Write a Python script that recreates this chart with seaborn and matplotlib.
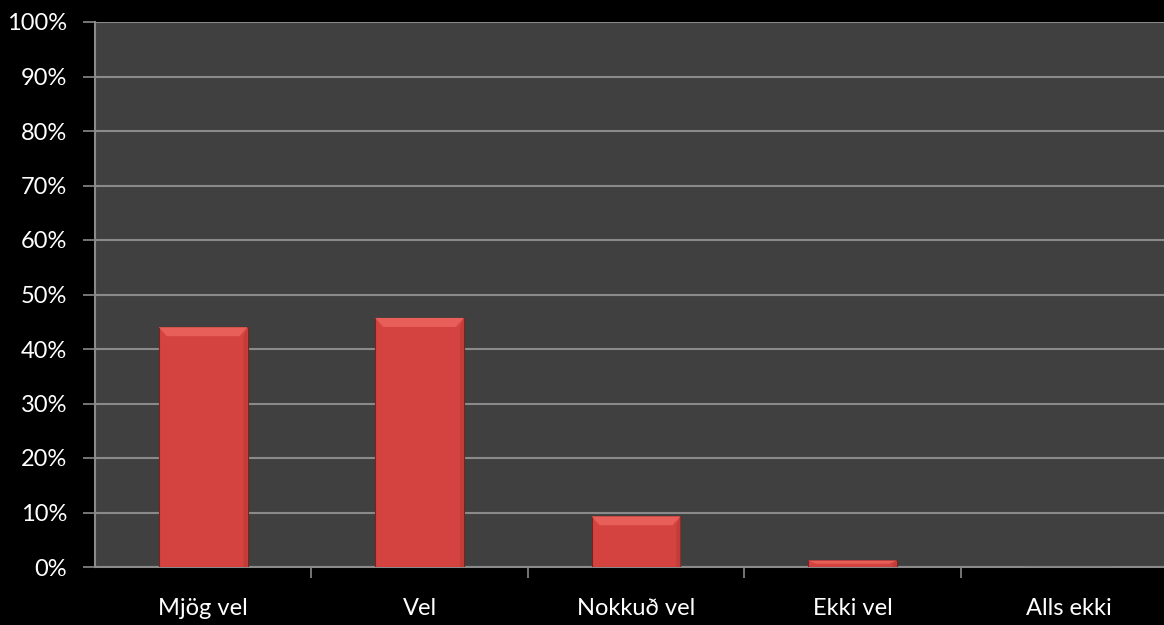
import matplotlib
matplotlib.use("Agg")
import matplotlib.pyplot as plt
from matplotlib.patches import Polygon
import seaborn as sns
import pandas as pd

categories = ["Mjög vel", "Vel", "Nokkuð vel", "Ekki vel", "Alls ekki"]
values = [44.0, 45.7, 9.3, 1.2, 0.0]

df = pd.DataFrame({"cat": categories, "pct": values})

sns.set_theme(style="dark")
plt.rcParams["font.family"] = ["Lato", "DejaVu Sans"]

fig = plt.figure(figsize=(11.64, 6.25), dpi=100, facecolor="black")
# plot area runs past the right edge of the picture, like the original
ax = fig.add_axes([95 / 1164, 1 - 567 / 625, 1082 / 1164, 545 / 625])
ax.set_facecolor("#404040")

sns.barplot(data=df, x="cat", y="pct", color="#d4433f", width=0.41,
            edgecolor="#7a2220", linewidth=0.8, saturation=1, ax=ax, zorder=3)

ax.set_ylim(0, 100)
ax.set_xlim(-0.5, 4.5)
ax.set_yticks(range(0, 101, 10))
ax.set_yticklabels([f"{v}%" for v in range(0, 101, 10)])
ax.yaxis.grid(True, color="#8a8a8a", linewidth=1.5, zorder=0)
ax.xaxis.grid(False)

# tick marks sit between the categories
ax.set_xticks([i + 0.5 for i in range(len(categories) - 1)], minor=True)
ax.tick_params(axis="x", which="minor", length=8, width=1.2, color="#8a8a8a",
               direction="out", bottom=True)
ax.tick_params(axis="x", which="major", length=0, pad=22, labelsize=17,
               labelcolor="white")
ax.tick_params(axis="y", length=9, width=1.2, color="#8a8a8a", direction="out",
               left=True, pad=11, labelsize=17, labelcolor="white")

for side in ["top", "right"]:
    ax.spines[side].set_visible(False)
for side in ["left", "bottom"]:
    ax.spines[side].set_visible(True)
    ax.spines[side].set_color("#8a8a8a")
    ax.spines[side].set_linewidth(1.5)

ax.set_xlabel("")
ax.set_ylabel("")

# bevel highlight on top of each bar
fig.canvas.draw()
px_per_unit = 545 / 100
for p in ax.patches:
    h = p.get_height()
    if h <= 0:
        continue
    x0 = p.get_x()
    w = p.get_width()
    top = p.get_y() + h
    bh = min(9 / px_per_unit, h * 0.5)
    dx = w * 0.09
    ax.add_patch(Polygon([(x0, top), (x0 + w, top), (x0 + w - dx, top - bh),
                          (x0 + dx, top - bh)], closed=True,
                         facecolor="#e85f5a", edgecolor="none", zorder=4))
    if h - bh > 0:
        ax.add_patch(Polygon([(x0 + w, top), (x0 + w - dx * 0.5, top - bh),
                              (x0 + w - dx * 0.5, p.get_y()), (x0 + w, p.get_y())],
                             closed=True, facecolor="#c23c38", edgecolor="none",
                             zorder=4))

fig.savefig("out.png", dpi=100, facecolor="black")
